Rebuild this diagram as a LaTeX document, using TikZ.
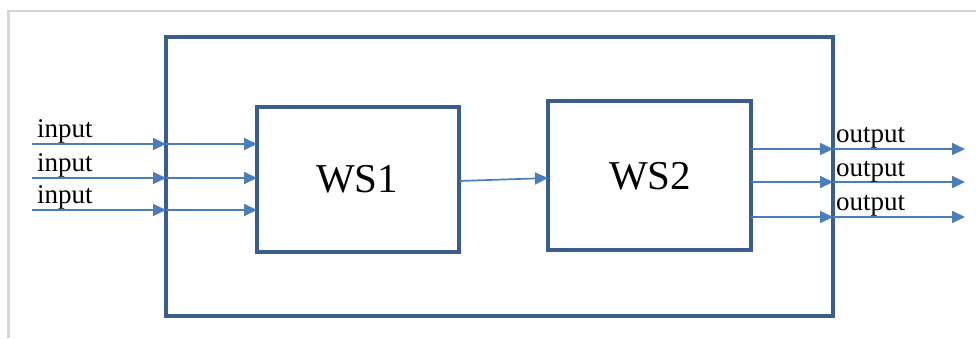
\documentclass[tikz,border=0pt]{standalone}
\usepackage{fontspec}
\setmainfont{Liberation Serif}
\usetikzlibrary{arrows.meta}
\definecolor{boxblue}{HTML}{3A5D8B}
\definecolor{arrowblue}{HTML}{4A7EBB}
\definecolor{framegray}{HTML}{D6D6D6}
\tikzset{
  block/.style={draw=boxblue, line width=4.5pt, inner sep=0pt, outer sep=0pt, rectangle},
  flow/.style={draw=arrowblue, line width=1.7pt, -{Triangle[length=13pt,width=12pt]}},
  lbl/.style={anchor=base west, inner sep=0pt, font=\fontsize{27}{27}\selectfont},
  wslbl/.style={font=\fontsize{41}{41}\selectfont}
}
\begin{document}
\begin{tikzpicture}[x=1pt, y=-1pt]
  \useasboundingbox (0,0) rectangle (976,338);
  % page frame
  \draw[framegray, line width=2.5pt] (8.5,338) -- (8.5,11) -- (976,11);

  % boxes
  \node[block, minimum width=667pt, minimum height=279pt] (outer) at (499.5,176.5) {};
  \node[block, minimum width=202pt, minimum height=145pt] (ws1) at (358,179.5) {};
  \node[block, minimum width=203pt, minimum height=149pt] (ws2) at (649.5,175.5) {};
  \node[wslbl] (ws1txt) at (357,179) {WS1};
  \node[wslbl] (ws2txt) at (650,176) {WS2};

  % input stubs
  \coordinate (in1) at (32,144);
  \coordinate (in2) at (32,178);
  \coordinate (in3) at (32,210);
  \foreach \i in {1,2,3} {
    \draw[flow] (in\i) -- (outer.west |- in\i);
    \draw[flow] (outer.west |- in\i) -- (ws1.west |- in\i);
  }
  \node[lbl] (inlbl1) at (37,137) {input};
  \node[lbl] (inlbl2) at (37,171) {input};
  \node[lbl] (inlbl3) at (37,203) {input};

  % link between the two stages
  \draw[flow] ([yshift=-1.5pt]ws1.east) -- ([yshift=-2.5pt]ws2.west);

  % output stubs
  \coordinate (out1) at (965,149);
  \coordinate (out2) at (965,182);
  \coordinate (out3) at (965,217);
  \foreach \i in {1,2,3} {
    \draw[flow] (ws2.east |- out\i) -- (outer.east |- out\i);
    \draw[flow] (outer.east |- out\i) -- (out\i);
  }
  \node[lbl] (outlbl1) at (836,142) {output};
  \node[lbl] (outlbl2) at (836,176) {output};
  \node[lbl] (outlbl3) at (836,210) {output};
\end{tikzpicture}
\end{document}
